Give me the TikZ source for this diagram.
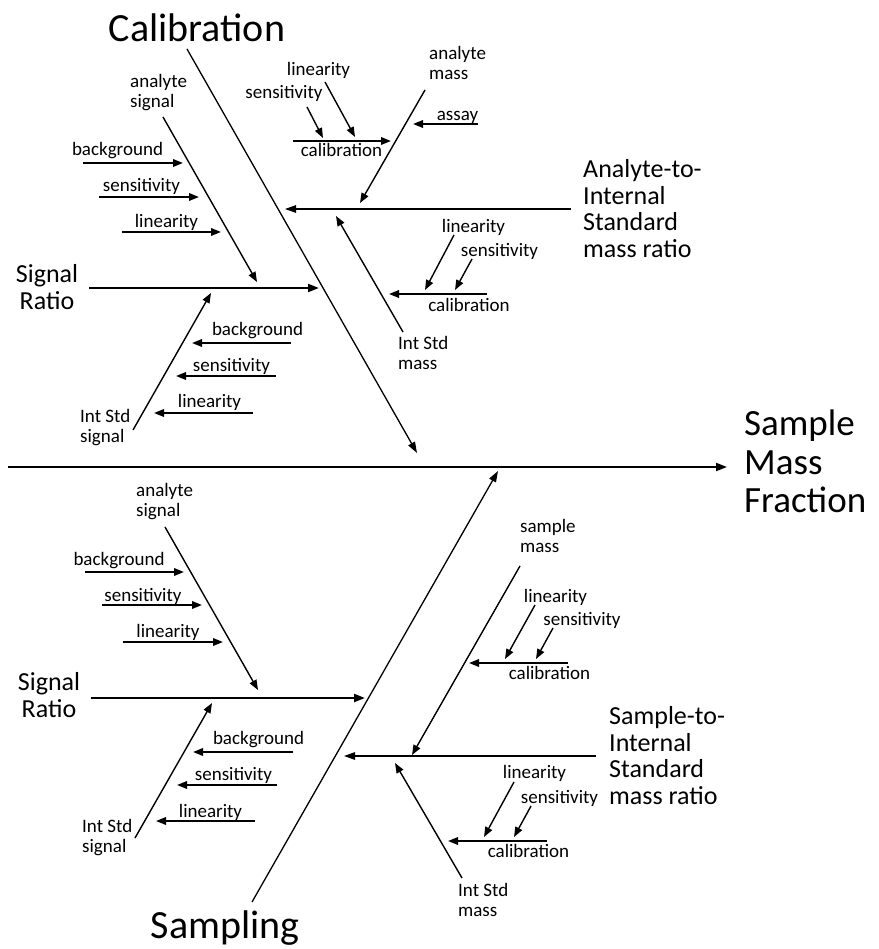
\documentclass[tikz,border=0pt]{standalone}
\usepackage{fontspec}
\setmainfont{Carlito}
\usetikzlibrary{arrows.meta}
\begin{document}
\begin{tikzpicture}[x=1pt,y=-1pt,
  arr/.style={-{Triangle[length=10pt,width=7.5pt]}, line width=1.8pt},
  sub/.style={-{Triangle[length=10pt,width=7.5pt]}, line width=1.4pt},
  bone/.style={-{Triangle[length=11pt,width=7.5pt]}, line width=1.3pt},
  sratio/.style={-{Triangle[length=11pt,width=8pt]}, line width=2.2pt},
  sm/.style={font=\fontsize{19}{20}\selectfont, inner sep=0pt},
  md/.style={font=\fontsize{26}{26.5}\selectfont, inner sep=0pt},
  lg/.style={font=\fontsize{40}{40}\selectfont, inner sep=0pt},
  xl/.style={font=\fontsize{37}{38.5}\selectfont, inner sep=0pt},
]
\useasboundingbox (0,0) rectangle (878,949);

% ---------- spine ----------
\coordinate (sp0) at (8,467);
\coordinate (sp1) at (727,467);
\draw[-{Triangle[length=11pt,width=8pt]}, line width=2pt] (sp0) -- (sp1);
\node[xl, anchor=north west, align=left] (smf) at (744,410) {Sample\\Mass\\Fraction};

% ---------- Calibration bone ----------
\node[lg, anchor=base] (calib) at (197,42) {Calibration};
\coordinate (c0) at (187,49); \coordinate (c1) at (417,453);
\draw[bone] (c0) -- (c1);

% upper-left: Signal Ratio
\node[md, anchor=north, align=center] (sr1) at (47,264.5) {Signal\\Ratio};
\coordinate (sr1a) at (89,288); \coordinate (sr1b) at (319,288);
\draw[sratio] (sr1a) -- (sr1b);

\node[sm, anchor=north west, align=left] (as1) at (130,74.5) {analyte\\signal};
\coordinate (as1a) at (163,117); \coordinate (as1b) at (257,282);
\draw[sub] (as1a) -- (as1b);
\node[sm, anchor=base] (bg1) at (117.5,156) {background};
\coordinate (bg1a) at (83,163); \coordinate (bg1b) at (183,163);
\draw[arr] (bg1a) -- (bg1b);
\node[sm, anchor=base] (se1) at (141.5,192) {sensitivity};
\coordinate (se1a) at (99,197); \coordinate (se1b) at (199,197);
\draw[arr] (se1a) -- (se1b);
\node[sm, anchor=base] (li1) at (166.5,228) {linearity};
\coordinate (li1a) at (122,232); \coordinate (li1b) at (221,232);
\draw[arr] (li1a) -- (li1b);

\node[sm, anchor=north west, align=left] (is1) at (80,409.5) {Int Std\\signal};
\coordinate (is1a) at (133,430); \coordinate (is1b) at (211,293);
\draw[sub] (is1a) -- (is1b);
\node[sm, anchor=base] (bg2) at (257.5,335) {background};
\coordinate (bg2a) at (291,343); \coordinate (bg2b) at (192,343);
\draw[arr] (bg2a) -- (bg2b);
\node[sm, anchor=base] (se2) at (231.5,371) {sensitivity};
\coordinate (se2a) at (276,376); \coordinate (se2b) at (176,376);
\draw[arr] (se2a) -- (se2b);
\node[sm, anchor=base] (li2) at (209.5,407) {linearity};
\coordinate (li2a) at (253,413); \coordinate (li2b) at (154,413);
\draw[arr] (li2a) -- (li2b);

% upper-right: Analyte-to-Internal Standard mass ratio
\node[md, anchor=north west, align=left] (a2i) at (583,159.5) {Analyte-to-\\Internal\\Standard\\mass ratio};
\coordinate (a2ia) at (571,209); \coordinate (a2ib) at (285,209);
\draw[bone] (a2ia) -- (a2ib);

\node[sm, anchor=north west, align=left] (am) at (429,46.5) {analyte\\mass};
\coordinate (ama) at (425,90); \coordinate (amb) at (360,203);
\draw[sub] (ama) -- (amb);
\node[sm, anchor=base] (asy) at (457.5,121) {assay};
\coordinate (asya) at (478,124); \coordinate (asyb) at (413,124);
\draw[arr] (asya) -- (asyb);
\node[sm, anchor=base] (cb1) at (341.5,157) {calibration};
\coordinate (cb1a) at (293,141); \coordinate (cb1b) at (391,141);
\draw[arr] (cb1a) -- (cb1b);
\node[sm, anchor=base] (li3) at (318.5,76) {linearity};
\coordinate (li3a) at (325,82); \coordinate (li3b) at (355,137);
\draw[sub] (li3a) -- (li3b);
\node[sm, anchor=base] (se3) at (284,99) {sensitivity};
\coordinate (se3a) at (307,107); \coordinate (se3b) at (323,138);
\draw[sub] (se3a) -- (se3b);

\node[sm, anchor=north west, align=left] (im1) at (398,336.5) {Int Std\\mass};
\coordinate (im1a) at (403,332); \coordinate (im1b) at (336,216);
\draw[sub] (im1a) -- (im1b);
\node[sm, anchor=base] (cb2) at (469,311) {calibration};
\coordinate (cb2a) at (487,294); \coordinate (cb2b) at (389,294);
\draw[arr] (cb2a) -- (cb2b);
\node[sm, anchor=base] (li4) at (473.5,233) {linearity};
\coordinate (li4a) at (454,235); \coordinate (li4b) at (425,290);
\draw[sub] (li4a) -- (li4b);
\node[sm, anchor=base] (se4) at (499.5,257) {sensitivity};
\coordinate (se4a) at (472,259); \coordinate (se4b) at (455,290);
\draw[sub] (se4a) -- (se4b);

% ---------- Sampling bone ----------
\node[lg, anchor=base] (samp) at (225,938) {Sampling};
\coordinate (s0) at (252,902); \coordinate (s1) at (498,471);
\draw[bone] (s0) -- (s1);

% lower-left: Signal Ratio
\node[md, anchor=north, align=center] (sr2) at (49,672.5) {Signal\\Ratio};
\coordinate (sr2a) at (91,698); \coordinate (sr2b) at (365,698);
\draw[sratio] (sr2a) -- (sr2b);

\node[sm, anchor=north west, align=left] (as2) at (136,483.5) {analyte\\signal};
\coordinate (as2a) at (165,527); \coordinate (as2b) at (258,690);
\draw[sub] (as2a) -- (as2b);
\node[sm, anchor=base] (bg3) at (119,565) {background};
\coordinate (bg3a) at (85,572); \coordinate (bg3b) at (184,572);
\draw[arr] (bg3a) -- (bg3b);
\node[sm, anchor=base] (se5) at (143,601) {sensitivity};
\coordinate (se5a) at (102,605); \coordinate (se5b) at (202,605);
\draw[arr] (se5a) -- (se5b);
\node[sm, anchor=base] (li5) at (168,637) {linearity};
\coordinate (li5a) at (123,642); \coordinate (li5b) at (223,642);
\draw[arr] (li5a) -- (li5b);

\node[sm, anchor=north west, align=left] (is2) at (82,819.5) {Int Std\\signal};
\coordinate (is2a) at (135,838); \coordinate (is2b) at (212,703);
\draw[sub] (is2a) -- (is2b);
\node[sm, anchor=base] (bg4) at (258.5,744) {background};
\coordinate (bg4a) at (293,752); \coordinate (bg4b) at (193,752);
\draw[arr] (bg4a) -- (bg4b);
\node[sm, anchor=base] (se6) at (233.5,780) {sensitivity};
\coordinate (se6a) at (277,785); \coordinate (se6b) at (177,785);
\draw[arr] (se6a) -- (se6b);
\node[sm, anchor=base] (li6) at (210.5,817) {linearity};
\coordinate (li6a) at (255,821); \coordinate (li6b) at (156,821);
\draw[arr] (li6a) -- (li6b);

% lower-right: Sample-to-Internal Standard mass ratio
\node[md, anchor=north west, align=left] (s2i) at (609,706.5) {Sample-to-\\Internal\\Standard\\mass ratio};
\coordinate (s2ia) at (596,756); \coordinate (s2ib) at (344,756);
\draw[bone] (s2ia) -- (s2ib);

\node[sm, anchor=north west, align=left] (sm1) at (520,519.5) {sample\\mass};
\coordinate (sm1a) at (520,566); \coordinate (sm1b) at (412,755);
\draw[sub] (sm1a) -- (sm1b);
\node[sm, anchor=base] (cb3) at (549.5,679) {calibration};
\coordinate (cb3a) at (568,663); \coordinate (cb3b) at (469,663);
\draw[arr] (cb3a) -- (cb3b);
\node[sm, anchor=base] (li7) at (555.5,602) {linearity};
\coordinate (li7a) at (535,605); \coordinate (li7b) at (505,659);
\draw[sub] (li7a) -- (li7b);
\node[sm, anchor=base] (se7) at (582,625) {sensitivity};
\coordinate (se7a) at (553,628); \coordinate (se7b) at (536,659);
\draw[sub] (se7a) -- (se7b);

\node[sm, anchor=north west, align=left] (im2) at (458,883.5) {Int Std\\mass};
\coordinate (im2a) at (462,878); \coordinate (im2b) at (395,763);
\draw[sub] (im2a) -- (im2b);
\node[sm, anchor=base] (cb4) at (528.5,857) {calibration};
\coordinate (cb4a) at (547,841); \coordinate (cb4b) at (448,841);
\draw[arr] (cb4a) -- (cb4b);
\node[sm, anchor=base] (li8) at (534.5,778) {linearity};
\coordinate (li8a) at (514,782); \coordinate (li8b) at (484,837);
\draw[sub] (li8a) -- (li8b);
\node[sm, anchor=base] (se8) at (559.5,803) {sensitivity};
\coordinate (se8a) at (531,806); \coordinate (se8b) at (514,837);
\draw[sub] (se8a) -- (se8b);
\end{tikzpicture}
\end{document}
